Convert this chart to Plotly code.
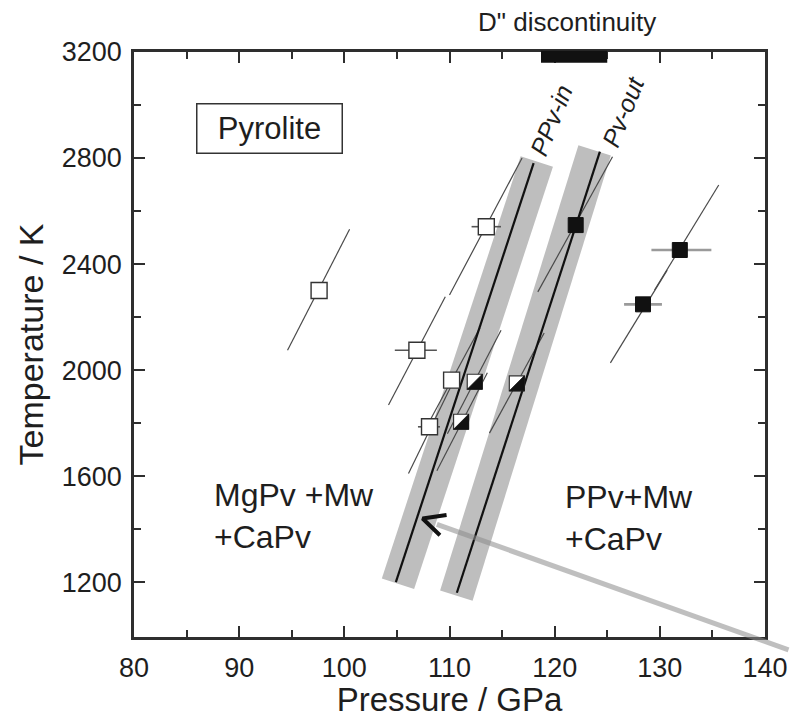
import plotly.graph_objects as go

# ---- phase boundaries (black lines) ----
ppv_in_p = [104.9, 118.0]
ppv_in_t = [1200, 2781]
pv_out_p = [110.7, 124.3]
pv_out_t = [1160, 2824]
# ---- grey uncertainty bands (centre lines) ----
band_in_p = [105.1, 118.3]
band_in_t = [1194, 2787]
band_out_p = [110.65, 123.8]
band_out_t = [1149, 2829]

# ---- open squares (MgPv) ----
open_p = [97.6, 113.5, 106.9, 110.2, 108.1]
open_t = [2300, 2541, 2075, 1962, 1786]
open_plo = [97.6, 112.1, 104.8, 110.2, 107.0]
open_phi = [97.6, 114.9, 108.8, 110.2, 109.1]
open_d0p = [94.6, 110.0, 104.2, 107.6, 106.1]
open_d0t = [2075, 2283, 1868, 1770, 1610]
open_d1p = [100.5, 116.9, 109.6, 112.9, 110.4]
open_d1t = [2531, 2800, 2277, 2160, 1960]

# ---- half-filled squares (coexistence) ----
half_p = [112.4, 111.1, 116.4]
half_t = [1956, 1805, 1950]
half_d0p = [109.8, 108.8, 113.8]
half_d0t = [1760, 1620, 1762]
half_d1p = [114.9, 113.6, 119.0]
half_d1t = [2150, 1990, 2140]

# ---- filled squares (PPv) ----
full_p = [122.0, 131.9, 128.4]
full_t = [2547, 2453, 2248]
full_plo = [122.0, 129.2, 126.6]
full_phi = [122.0, 134.9, 130.2]
full_d0p = [118.4, 129.5, 125.3]
full_d0t = [2295, 2302, 2027]
full_d1p = [125.5, 135.6, 130.7]
full_d1t = [2805, 2698, 2377]

# ---- D" discontinuity pressure range ----
dpp_range = [118.7, 125.0]

# ---- arrow head (pointing at PPv-in line) ----
arrow_p = [109.72, 107.44, 109.09]
arrow_t = [1453, 1440, 1377]

# ---- axes ----
x_range = [80, 140]
y_range = [993, 3200]
y_minor_vals = [1400, 1800, 2200, 2600, 3000]

FONT = "Liberation Sans, Arial, Helvetica, sans-serif"
INK = "#1e1e1e"
AX = "#2e2e2e"

W, H = 790, 718
ML, MR, MT, MB = 134, 25, 52, 81
PW = W - ML - MR
PH = H - MT - MB


def segs(p0, t0, p1, t1):
    xs, ys = [], []
    for a, b, c, d in zip(p0, t0, p1, t1):
        xs += [a, c, None]
        ys += [b, d, None]
    return xs, ys


fig = go.Figure()

# grey bands
for bp, bt in [(band_in_p, band_in_t), (band_out_p, band_out_t)]:
    fig.add_trace(go.Scatter(x=bp, y=bt, mode="lines",
                             line=dict(color="#bebebe", width=34),
                             hoverinfo="skip", showlegend=False))

# diagonal thin lines
for d in [(open_d0p, open_d0t, open_d1p, open_d1t),
          (half_d0p, half_d0t, half_d1p, half_d1t),
          (full_d0p, full_d0t, full_d1p, full_d1t)]:
    xs, ys = segs(*d)
    fig.add_trace(go.Scatter(x=xs, y=ys, mode="lines",
                             line=dict(color="#4a4a4a", width=1.2),
                             hoverinfo="skip", showlegend=False))

# phase boundary lines
for lp, lt in [(ppv_in_p, ppv_in_t), (pv_out_p, pv_out_t)]:
    fig.add_trace(go.Scatter(x=lp, y=lt, mode="lines",
                             line=dict(color="#111111", width=2.2),
                             hoverinfo="skip", showlegend=False))

# horizontal error bars
xs, ys = segs(open_plo, open_t, open_phi, open_t)
fig.add_trace(go.Scatter(x=xs, y=ys, mode="lines",
                         line=dict(color="#555555", width=1.6),
                         hoverinfo="skip", showlegend=False))
xs, ys = segs(full_plo, full_t, full_phi, full_t)
fig.add_trace(go.Scatter(x=xs, y=ys, mode="lines",
                         line=dict(color="#9a9a9a", width=2.6),
                         hoverinfo="skip", showlegend=False))

# markers
SQ = 15
fig.add_trace(go.Scatter(x=open_p, y=open_t, mode="markers",
                         marker=dict(symbol="square", size=SQ + 1, color="white",
                                     line=dict(color="#333333", width=1.4)),
                         showlegend=False))
fig.add_trace(go.Scatter(x=half_p, y=half_t, mode="markers",
                         marker=dict(symbol="square", size=SQ, color="white",
                                     line=dict(color="#333333", width=1.2)),
                         showlegend=False))
# black lower-right half of the half-filled squares (marker geometry in px -> data)
kx = PW / (x_range[1] - x_range[0])
ky = PH / (y_range[1] - y_range[0])
hh = SQ / 2.0
tx, ty = [], []
for p, t in zip(half_p, half_t):
    tx += [p + hh / kx, p + hh / kx, p - hh / kx, p + hh / kx, None]
    ty += [t + hh / ky, t - hh / ky, t - hh / ky, t + hh / ky, None]
fig.add_trace(go.Scatter(x=tx, y=ty, mode="lines", fill="toself",
                         fillcolor="#111111", line=dict(color="#111111", width=0.8),
                         hoverinfo="skip", showlegend=False))
fig.add_trace(go.Scatter(x=full_p, y=full_t, mode="markers",
                         marker=dict(symbol="square", size=SQ, color="#111111",
                                     line=dict(color="#111111", width=1)),
                         showlegend=False))

# arrow head
fig.add_trace(go.Scatter(x=arrow_p, y=arrow_t, mode="lines",
                         line=dict(color="#111111", width=4),
                         hoverinfo="skip", showlegend=False))

# grey leader line from arrow head
fig.add_annotation(x=108.8, y=1418, xref="x", yref="y", ax=360, ay=126,
                   axref="pixel", ayref="pixel", text="", showarrow=True,
                   arrowhead=0, arrowwidth=5, arrowcolor="rgba(140,140,140,0.55)")

# D" bar
fig.add_shape(type="rect", xref="x", yref="paper", x0=dpp_range[0], x1=dpp_range[1],
              y0=0.9817, y1=1.002, fillcolor="#111111", line=dict(width=0), layer="above")
fig.add_annotation(x=0.687, y=1.051, xref="paper", yref="paper", text='D" discontinuity',
                   showarrow=False, xanchor="center", yanchor="middle",
                   font=dict(family=FONT, size=26, color=INK))

# Pyrolite box
fig.add_annotation(x=0.2147, y=0.869, xref="paper", yref="paper", text="Pyrolite",
                   showarrow=False, xanchor="center", yanchor="middle",
                   font=dict(family=FONT, size=31, color=INK),
                   bordercolor="#333333", borderwidth=1.5, borderpad=4,
                   width=136, height=40)

# phase field labels
fig.add_annotation(x=0.123, y=0.207, xref="paper", yref="paper",
                   text="MgPv +Mw<br>+CaPv", showarrow=False, align="left",
                   xanchor="left", yanchor="middle",
                   font=dict(family=FONT, size=32, color=INK))
fig.add_annotation(x=0.680, y=0.203, xref="paper", yref="paper",
                   text="PPv+Mw<br>+CaPv", showarrow=False, align="left",
                   xanchor="left", yanchor="middle",
                   font=dict(family=FONT, size=32, color=INK))

# rotated boundary labels
fig.add_annotation(x=0.661, y=0.884, xref="paper", yref="paper", text="<i>PPv-in</i>",
                   showarrow=False, textangle=-68, xanchor="center", yanchor="middle",
                   font=dict(family=FONT, size=25, color=INK))
fig.add_annotation(x=0.775, y=0.897, xref="paper", yref="paper", text="<i>Pv-out</i>",
                   showarrow=False, textangle=-68, xanchor="center", yanchor="middle",
                   font=dict(family=FONT, size=25, color=INK))

axis_common = dict(
    showline=True, linewidth=2.5, linecolor=AX, mirror="ticks",
    ticks="inside", ticklen=11, tickwidth=2, tickcolor=AX,
    showgrid=False, zeroline=False, automargin=False,
    tickfont=dict(family=FONT, size=27, color=INK),
)

fig.update_xaxes(range=x_range, tick0=80, dtick=10,
                 minor=dict(dtick=5, ticks="inside", ticklen=7, tickwidth=2,
                            tickcolor=AX, showgrid=False),
                 title=dict(text="Pressure / GPa", standoff=1,
                            font=dict(family=FONT, size=33, color=INK)),
                 ticklabelstandoff=5,
                 **axis_common)
fig.update_yaxes(range=y_range, tick0=1200, dtick=400,
                 minor=dict(tickvals=y_minor_vals, ticks="inside", ticklen=7, tickwidth=2,
                            tickcolor=AX, showgrid=False),
                 title=dict(text="Temperature / K", standoff=8,
                            font=dict(family=FONT, size=34, color=INK)),
                 ticklabelstandoff=4,
                 **axis_common)

fig.update_layout(width=W, height=H,
                  margin=dict(l=ML, r=MR, t=MT, b=MB),
                  plot_bgcolor="white", paper_bgcolor="white",
                  showlegend=False)

# drop the browser's default 8px body margin so the 790x718 figure fills the window exactly
fig.write_html("out.html", config={"displayModeBar": False},
               post_script="document.body.style.margin='0px';")
